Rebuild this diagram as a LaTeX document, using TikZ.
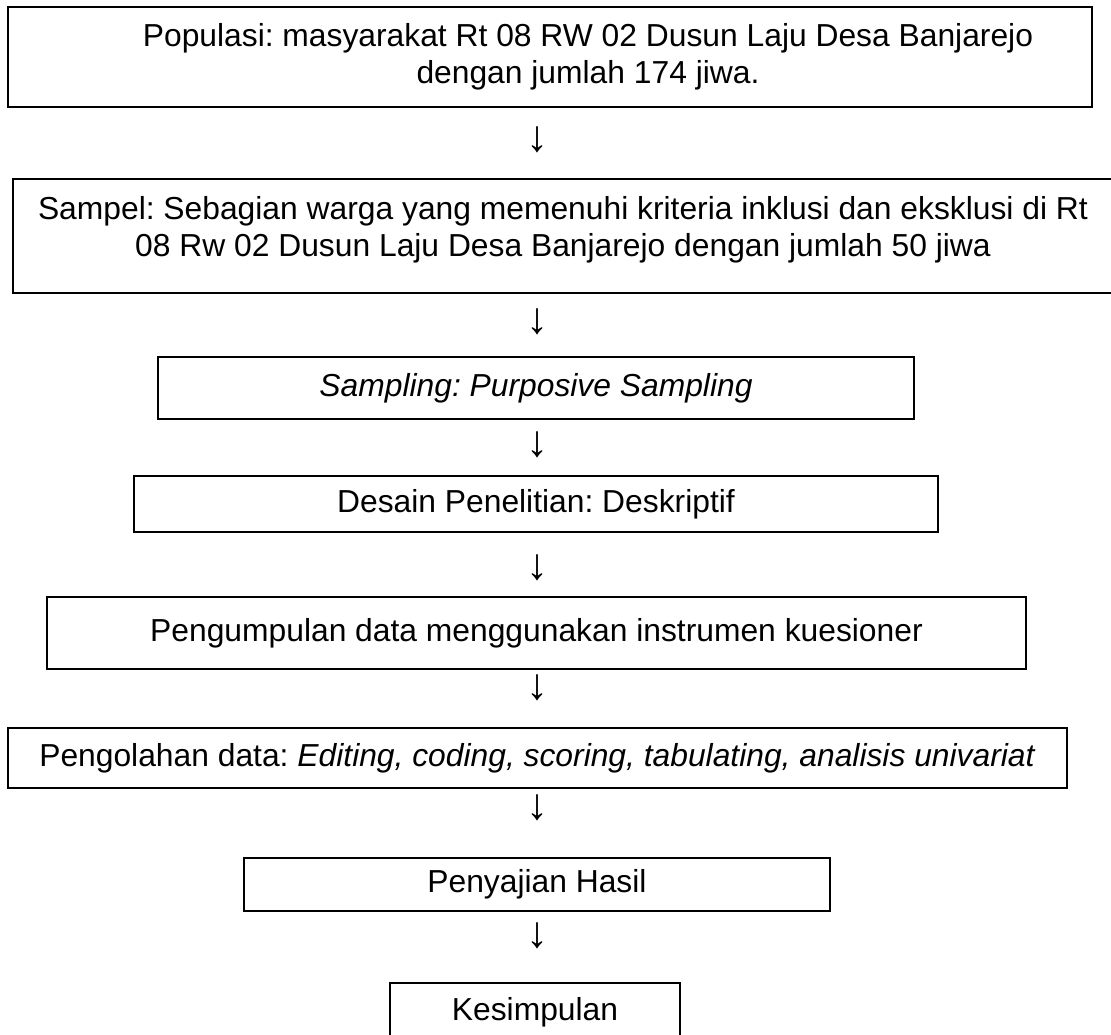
\documentclass[tikz,border=0pt]{standalone}
\usepackage{fontspec}
\setmainfont{Liberation Sans}
\usetikzlibrary{positioning}
\frenchspacing

\tikzset{
  stagebox/.style={draw,rectangle,line width=1.5pt,align=center,inner sep=0pt,
    font=\fontsize{31.8}{36.5}\selectfont},
  downmark/.style={inner sep=0pt,font=\fontsize{44}{48}\selectfont}
}

\begin{document}
\begin{tikzpicture}[x=1pt,y=-1pt]
\useasboundingbox (0,0) rectangle (1111,1035);

\node [stagebox,minimum width=1084pt,minimum height=100pt] (pop) at (550,57)
  {\hspace*{76pt}Populasi: masyarakat Rt 08 RW 02 Dusun Laju Desa Banjarejo\\
   \hspace*{76pt}dengan jumlah 174 jiwa.};
\node [downmark] (d1) at (537,140) {↓};

\node [stagebox,minimum width=1100pt,minimum height=114pt] (sampel) at (563,236)
  {Sampel: Sebagian warga yang memenuhi kriteria inklusi dan eksklusi di Rt\\
   08 Rw 02 Dusun Laju Desa Banjarejo dengan jumlah 50 jiwa\rule[-19pt]{0pt}{1pt}};
\node [downmark] (d2) at (537,322) {↓};

\node [stagebox,minimum width=756pt,minimum height=62pt] (teknik) at (536,388)
  {\textit{Sampling: Purposive Sampling}};
\node [downmark] (d3) at (537,445) {↓};

\node [stagebox,minimum width=804pt,minimum height=56pt] (desain) at (536,504)
  {Desain Penelitian: Deskriptif};
\node [downmark] (d4) at (537,568) {↓};

\node [stagebox,minimum width=979pt,minimum height=72pt] (kumpul) at (536.5,633)
  {Pengumpulan data menggunakan instrumen kuesioner};
\node [downmark] (d5) at (537,688) {↓};

\node [stagebox,minimum width=1059pt,minimum height=60pt] (olah) at (537.5,758)
  {Pengolahan data: \textit{Editing, coding, scoring, tabulating, analisis univariat}};
\node [downmark] (d6) at (537,808) {↓};

\node [stagebox,minimum width=586pt,minimum height=53pt] (saji) at (537,884.5)
  {Penyajian Hasil};
\node [downmark] (d7) at (537,936) {↓};

\node [stagebox,minimum width=290pt,minimum height=58pt] (simpul) at (535,1012)
  {Kesimpulan};
\end{tikzpicture}
\end{document}
